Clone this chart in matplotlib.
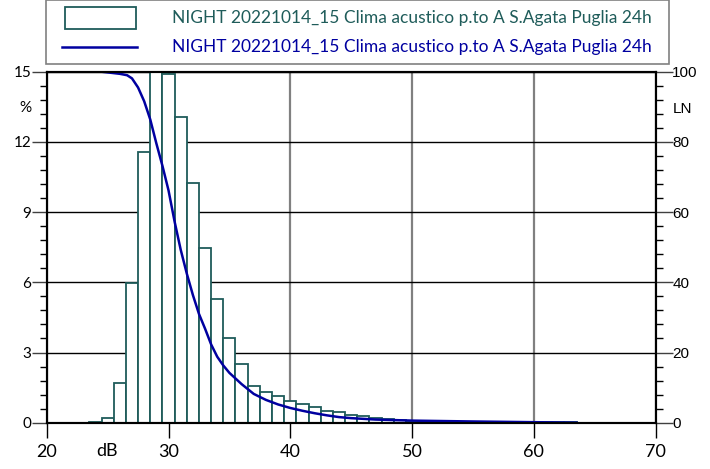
import matplotlib.pyplot as plt
from matplotlib.patches import Rectangle
from matplotlib.lines import Line2D

# class levels (dB) and percentage of time in each 1 dB class
levels = list(range(24, 64))
percent = [0.04, 0.19, 1.71, 5.96, 11.57, 15.4, 14.9, 13.06, 10.26, 7.45,
           5.27, 3.64, 2.51, 1.58, 1.33, 1.14, 0.91, 0.82, 0.65, 0.52,
           0.45, 0.31, 0.27, 0.18, 0.14, 0.11, 0.09, 0.08, 0.06, 0.05,
           0.04, 0.03, 0.03, 0.02, 0.02, 0.02, 0.01, 0.01, 0.01, 0.01]

# cumulative exceedance curve LN
ln_db = [24.5, 26.0, 26.6, 27.0, 27.5, 28.0, 28.5, 29.0, 29.5, 30.0, 30.5,
         31.0, 31.5, 32.0, 32.5, 33.0, 33.5, 34.0, 34.5, 35.0, 35.5, 36.0,
         37.0, 38.0, 39.0, 40.0, 41.0, 42.0, 43.0, 44.0, 45.0, 47.0, 50.0,
         55.0, 60.0, 63.5]
ln_val = [100, 99.4, 99.0, 98.1, 95.5, 91.6, 86.4, 79.6, 73.2, 66.2, 57.3,
          49.3, 42.5, 36.4, 31.0, 26.8, 22.3, 18.8, 16.3, 14.2, 12.6, 11.0,
          8.2, 6.5, 5.2, 4.2, 3.4, 2.7, 2.1, 1.6, 1.3, 0.9, 0.6,
          0.35, 0.15, 0.0]

label = "NIGHT 20221014_15 Clima acustico p.to A S.Agata Puglia 24h"
teal = "#1f5c5a"
blue = "#0000a0"

plt.rcParams['font.family'] = ['Lato', 'DejaVu Sans']

fig = plt.figure(figsize=(7.1, 4.69), dpi=100)
ax = fig.add_axes([0.0658, 0.0987, 0.8577, 0.7484])

ax.bar(levels, percent, width=1.0, color="white", edgecolor=teal, linewidth=1.3)
ax.set_xlim(20, 70)
ax.set_ylim(0, 15)
ax.set_axisbelow(True)

ax.set_xticks([20, 30, 40, 50, 60, 70])
ax.set_yticks([0, 3, 6, 9, 12, 15])
ax.set_yticks([v * 0.6 for v in range(26)], minor=True)
ax.xaxis.grid(True, color="#808080", linewidth=1.6)
ax.yaxis.grid(True, color="black", linewidth=1.0)
ax.tick_params(axis="x", length=11, width=1.0, color="black", pad=4, labelsize=13)
ax.tick_params(axis="y", which="major", length=11, width=1.0, color="#404040", pad=0, labelsize=11)
ax.tick_params(axis="y", which="minor", length=5, width=1.0, color="black")
for s in ax.spines.values():
    s.set_color("black")
    s.set_linewidth(1.5)

ax2 = ax.twinx()
ax2.plot(ln_db, ln_val, color=blue, linewidth=1.8)
ax2.set_ylim(0, 100)
ax2.set_yticks([0, 20, 40, 60, 80, 100])
ax2.set_yticks(range(0, 101, 4), minor=True)
ax2.tick_params(axis="y", which="major", length=12, width=1.0, color="#404040", pad=0, labelsize=11)
ax2.tick_params(axis="y", which="minor", length=5, width=1.0, color="black")
for t in ax2.get_yticklabels():
    t.set_family("Liberation Sans")
for s in ax2.spines.values():
    s.set_color("black")
    s.set_linewidth(1.5)

fig.text(25 / 710, 1 - 108 / 469, "%", ha="center", va="center", fontsize=11)
fig.text(682 / 710, 1 - 109 / 469, "LN", ha="center", va="center", fontsize=11,
         family="Liberation Sans")
fig.text(107 / 710, 1 - 451 / 469, "dB", ha="center", va="center", fontsize=13)

# legend box
fig.patches.append(Rectangle((46 / 710, 1 - 64 / 469), 623 / 710, 64 / 469,
                             transform=fig.transFigure, facecolor="white",
                             edgecolor="#808080", linewidth=1.2))
fig.patches.append(Rectangle((65 / 710, 1 - 29 / 469), 71 / 710, 22 / 469,
                             transform=fig.transFigure, facecolor="white",
                             edgecolor=teal, linewidth=1.3))
fig.lines.append(Line2D([62 / 710, 137 / 710], [1 - 47 / 469, 1 - 47 / 469],
                        transform=fig.transFigure, color=blue, linewidth=1.8))
fig.text(172 / 710, 1 - 18 / 469, label, ha="left", va="center", fontsize=12.5, color=teal)
fig.text(172 / 710, 1 - 47 / 469, label, ha="left", va="center", fontsize=12.5, color=blue)

fig.savefig("out.png", dpi=100)
